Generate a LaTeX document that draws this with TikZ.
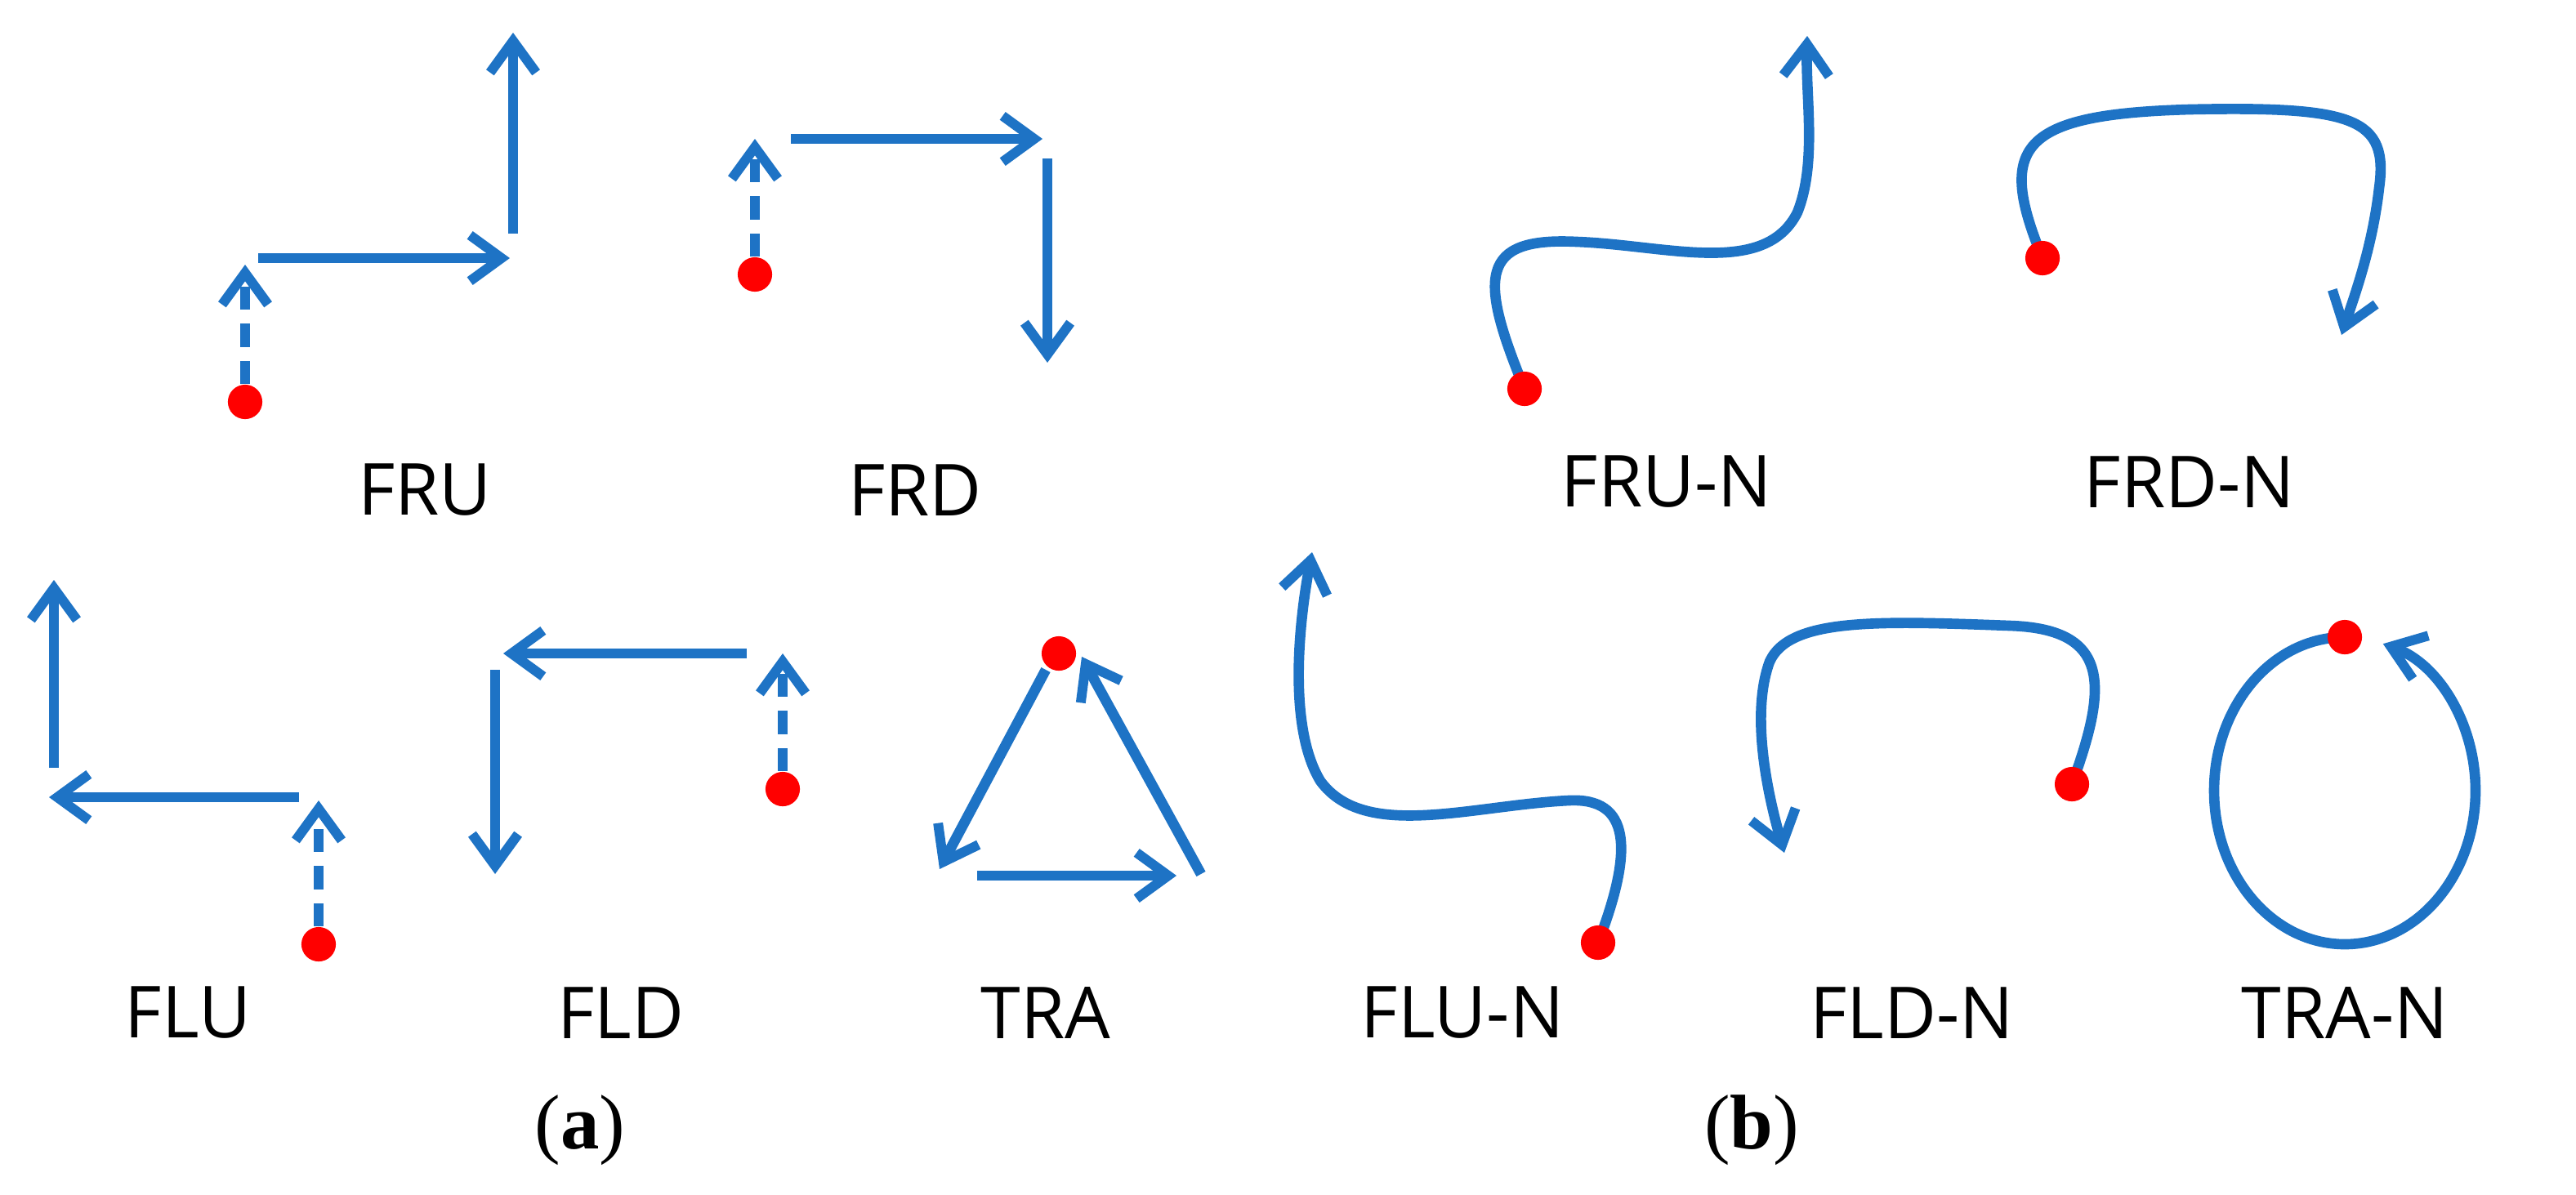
\documentclass[tikz,border=0pt]{standalone}
\usepackage{fontspec}
\setmainfont{Open Sans}
\newfontfamily\serif{Liberation Serif}
\usetikzlibrary{arrows.meta}
\definecolor{ab}{HTML}{1E73C5}
\begin{document}
\begin{tikzpicture}[x=0.02cm,y=-0.02cm,
  ln/.style={ab,line width=3.6pt,-{Straight Barb[length=11pt,width=16pt,line width=3.4pt]}},
  dl/.style={ln,dash pattern=on 8pt off 5pt},
  cv/.style={ab,line width=3.6pt,line cap=round,-{Straight Barb[length=11pt,width=16pt,line width=3.4pt]}},
  dot/.style={circle,fill=red,inner sep=0pt,minimum size=12pt},
  lb/.style={font=\fontsize{25}{30}\selectfont},
  captxt/.style={font=\serif\fontsize{27}{32}\selectfont}]
\useasboundingbox (0,0) rectangle (1576.5,731);
% FRU
\node[dot] (d1) at (150,246) {};
\coordinate (d1t) at (150,162);
\draw[dl] (d1) -- (d1t);
\coordinate (a1) at (158,158); \coordinate (a2) at (312,158);
\draw[ln] (a1) -- (a2);
\coordinate (a3) at (314,143); \coordinate (a4) at (314,20);
\draw[ln] (a3) -- (a4);
\node[lb] (l1) at (260,300) {FRU};
% FRD
\node[dot] (d2) at (462,168) {};
\coordinate (d2t) at (462,85);
\draw[dl] (d2) -- (d2t);
\coordinate (b1) at (484,85); \coordinate (b2) at (638,85);
\draw[ln] (b1) -- (b2);
\coordinate (b3) at (641,97); \coordinate (b4) at (641,222);
\draw[ln] (b3) -- (b4);
\node[lb] (l2) at (560,300) {FRD};
% FLU
\node[dot] (d3) at (195,578) {};
\coordinate (d3t) at (195,490);
\draw[dl] (d3) -- (d3t);
\coordinate (c1) at (183,488); \coordinate (c2) at (30,488);
\draw[ln] (c1) -- (c2);
\coordinate (c3) at (33,470); \coordinate (c4) at (33,355);
\draw[ln] (c3) -- (c4);
\node[lb] (l3) at (115,620) {FLU};
% FLD
\node[dot] (d4) at (479,483) {};
\coordinate (d4t) at (479,400);
\draw[dl] (d4) -- (d4t);
\coordinate (e1) at (457,400); \coordinate (e2) at (308,400);
\draw[ln] (e1) -- (e2);
\coordinate (e3) at (303,410); \coordinate (e4) at (303,535);
\draw[ln] (e3) -- (e4);
\node[lb] (l4) at (380,620) {FLD};
% TRA
\node[dot] (d5) at (648,400) {};
\coordinate (t1) at (640,410); \coordinate (t2) at (575,532);
\draw[ln] (t1) -- (t2);
\coordinate (t3) at (598,536); \coordinate (t4) at (720,536);
\draw[ln] (t3) -- (t4);
\coordinate (t5) at (735,535); \coordinate (t6) at (662,402);
\draw[ln] (t5) -- (t6);
\node[lb] (l5) at (640,620) {TRA};
% FRU-N
\draw[cv] (933,238) .. controls (905,170) and (905,145) .. (965,148) .. controls (1020,150) and (1080,170) .. (1100,130) .. controls (1112,100) and (1105,60) .. (1106,22);
\node[dot] (n1) at (933,238) {};
\node[lb] (m1) at (1020,295) {FRU-N};
% FRD-N
\draw[cv] (1250,158) .. controls (1222,90) and (1235,70) .. (1340,67) .. controls (1440,65) and (1462,72) .. (1456,115) .. controls (1452,150) and (1442,178) .. (1433,205);
\node[dot] (n2) at (1250,158) {};
\node[lb] (m2) at (1340,295) {FRD-N};
% FLU-N
\draw[cv] (978,577) .. controls (1000,520) and (998,488) .. (960,490) .. controls (900,493) and (835,515) .. (808,478) .. controls (788,445) and (795,380) .. (803,338);
\node[dot] (n3) at (978,577) {};
\node[lb] (m3) at (895,620) {FLU-N};
% FLD-N
\draw[cv] (1268,480) .. controls (1290,420) and (1292,385) .. (1230,383) .. controls (1150,380) and (1095,378) .. (1083,405) .. controls (1072,435) and (1080,480) .. (1092,522);
\node[dot] (n4) at (1268,480) {};
\node[lb] (m4) at (1170,620) {FLD-N};
% TRA-N
\draw[cv] (1435,390) arc[start angle=270,end angle=-73,x radius=80,y radius=94];
\node[dot] (n5) at (1435,390) {};
\node[lb] (m5) at (1435,620) {TRA-N};
\node[captxt] (ca) at (355,692) {(\textbf{a})};
\node[captxt] (cb) at (1072,692) {(\textbf{b})};
\end{tikzpicture}
\end{document}
